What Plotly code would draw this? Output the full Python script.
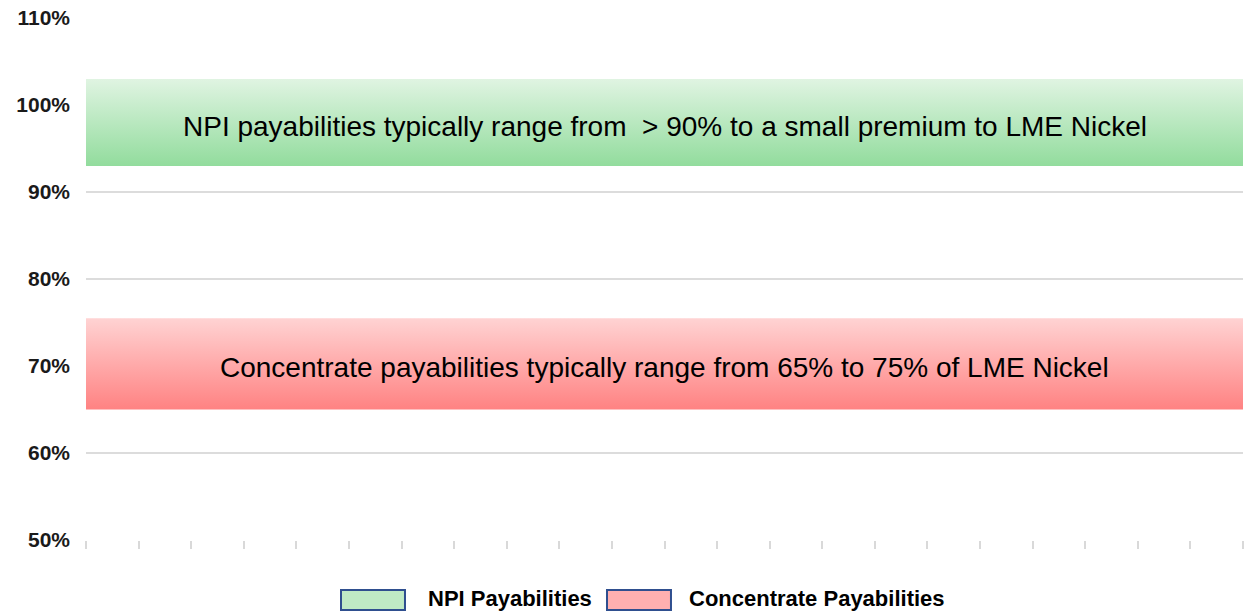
import plotly.graph_objects as go

# ---- data ----
periods = list(range(1, 24))
npi_low = [93.0] * 23
npi_high = [103.0] * 23
conc_low = [65.0] * 23
conc_high = [75.5] * 23
y_ticks = [50, 60, 70, 80, 90, 100, 110]
y_tick_labels = ["50%", "60%", "70%", "80%", "90%", "100%", "110%"]
series_names = ["NPI Payabilities", "Concentrate Payabilities"]
band_texts = [
    "NPI payabilities typically range from&nbsp; > 90% to a small premium to LME Nickel",
    "Concentrate payabilities typically range from 65% to 75% of LME Nickel",
]

FONT = "Liberation Sans, Arial, sans-serif"
green_scale = [[0, "#92dc9d"], [1, "#e0f4e2"]]
red_scale = [[0, "#ff8282"], [1, "#ffd3d3"]]

fig = go.Figure()

def add_band(low, high, name, scale):
    fig.add_trace(go.Scatter(x=periods, y=low, mode="lines", line=dict(width=0),
                             showlegend=False, hoverinfo="skip"))
    fig.add_trace(go.Scatter(x=periods, y=high, mode="lines", line=dict(width=0),
                             fill="tonexty", name=name, showlegend=False,
                             fillgradient=dict(type="vertical", colorscale=scale)))

add_band(npi_low, npi_high, series_names[0], green_scale)
add_band(conc_low, conc_high, series_names[1], red_scale)

# band labels
for low, high, txt in [(npi_low, npi_high, band_texts[0]), (conc_low, conc_high, band_texts[1])]:
    fig.add_annotation(x=(periods[0] + periods[-1]) / 2, y=(low[0] + high[0]) / 2 - 0.45,
                       text=txt, showarrow=False,
                       font=dict(family=FONT, size=28, color="#000000"))

# custom legend
legend_items = [
    (0.2204, 0.2757, 0.2939, series_names[0], "#bfeac5"),
    (0.4503, 0.5056, 0.5195, series_names[1], "#ffb0b0"),
]
for x0, x1, xt, name, col in legend_items:
    fig.add_shape(type="rect", xref="paper", yref="paper", x0=x0, x1=x1,
                  y0=-0.1341, y1=-0.0958, fillcolor=col,
                  line=dict(color="#2f4f8f", width=2))
    fig.add_annotation(xref="paper", yref="paper", x=xt, y=-0.113, xanchor="left",
                       yanchor="middle", text="<b>" + name + "</b>", showarrow=False,
                       font=dict(family=FONT, size=22, color="#000000"))

fig.update_layout(
    width=1246, height=613,
    margin=dict(l=86, r=3, t=18, b=73),
    paper_bgcolor="white", plot_bgcolor="white",
    showlegend=False,
)
fig.update_xaxes(range=[periods[0], periods[-1]], tickvals=periods, showticklabels=False,
                 ticks="outside", ticklen=8, tickcolor="#d9d9d9", tickwidth=2,
                 showgrid=False, zeroline=False, showline=False)
fig.update_yaxes(range=[50, 110], tickvals=y_ticks, ticktext=y_tick_labels,
                 showgrid=True, gridcolor="#dcdcdc", gridwidth=2, zeroline=False,
                 showline=False, ticks="", ticklabelstandoff=15,
                 tickfont=dict(family=FONT, size=21, color="#1a1a1a", weight="bold"))

fig.write_html("out.html", config={"displayModeBar": False},
               post_script="document.body.style.margin='0';document.body.style.overflow='hidden';")
